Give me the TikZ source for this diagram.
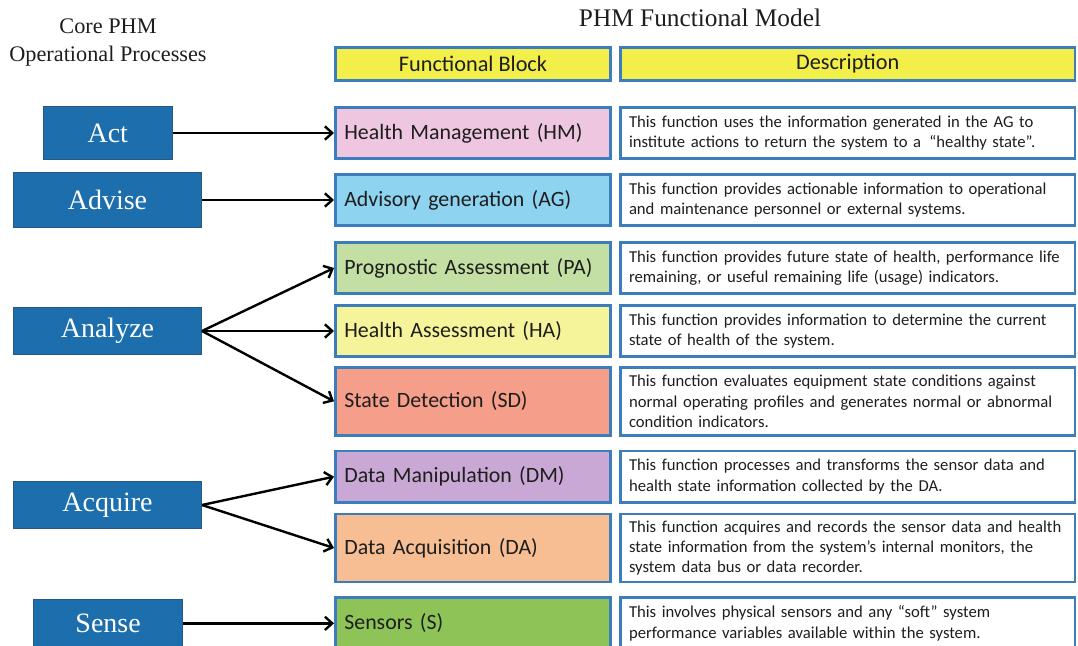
\documentclass[tikz,border=0pt]{standalone}
\usepackage{fontspec}
\setmainfont{Liberation Serif}
\newfontfamily\calibri{Carlito}
\usetikzlibrary{arrows.meta, positioning}
\definecolor{procblue}{RGB}{28,110,172}
\definecolor{procedge}{RGB}{40,88,135}
\definecolor{rimblue}{RGB}{60,125,190}
\definecolor{hdryellow}{RGB}{242,238,74}
\definecolor{hmpink}{RGB}{238,198,223}
\definecolor{agcyan}{RGB}{142,211,240}
\definecolor{pagreen}{RGB}{196,223,163}
\definecolor{hayellow}{RGB}{246,244,154}
\definecolor{sdsalmon}{RGB}{245,158,138}
\definecolor{dmlilac}{RGB}{201,168,213}
\definecolor{dapeach}{RGB}{247,189,147}
\definecolor{sgreen}{RGB}{141,195,87}
\definecolor{inkgray}{RGB}{30,30,30}
\tikzset{
  title/.style   = {align=center, inner sep=0pt, text=inkgray,
                    font=\fontsize{16.7}{21}\selectfont},
  process/.style = {rectangle, draw=procedge, line width=0.8pt, fill=procblue,
                    text=white, font=\fontsize{21}{24}\selectfont,
                    minimum width=141pt, minimum height=35.5pt, inner sep=0pt},
  header/.style  = {rectangle, draw=rimblue, line width=2pt, fill=hdryellow,
                    font=\calibri\fontsize{16.7}{20}\selectfont, text=inkgray,
                    minimum height=25pt, inner sep=0pt},
  fblock/.style  = {rectangle, draw=rimblue, line width=2pt, minimum width=206.5pt,
                    minimum height=38.5pt, text width=193pt, align=left,
                    font=\calibri\fontsize{16.4}{20}\selectfont, text=inkgray, inner sep=0pt},
  descr/.style   = {rectangle, draw=rimblue, line width=2pt, fill=white,
                    minimum width=341pt, minimum height=38.5pt, text width=328pt,
                    align=left, font=\calibri\fontsize{12.5}{15.3}\selectfont,
                    text=inkgray, inner sep=0pt},
  tall/.style    = {minimum height=51pt},
  flow/.style    = {-{Straight Barb[length=5.5pt, width=10pt]}, line width=1.8pt}
}
\begin{document}
\begin{tikzpicture}[x=0.75pt, y=-0.75pt]
  \useasboundingbox (0,0) rectangle (1078,646);

  % titles
  \node[title] (coretitle)  at (108,42) {Core PHM\\Operational Processes};
  \node[title, font=\fontsize{19}{22}\selectfont] (modeltitle) at (700,18) {PHM Functional Model};

  % table header
  \node[header, minimum width=206.5pt, anchor=north west] (hdrblock) at (334,46)
        {Functional Block};
  \node[header, minimum width=341pt] (hdrdesc) [right=5.25pt of hdrblock]
        {Description};

  % functional blocks
  \node[fblock, fill=hmpink]   (hm) [below=18pt of hdrblock]  {Health Management (HM)};
  \node[fblock, fill=agcyan]   (ag) [below=9.75pt of hm]      {Advisory generation (AG)};
  \node[fblock, fill=pagreen]  (pa) [below=10.5pt of ag]      {Prognostic Assessment (PA)};
  \node[fblock, fill=hayellow] (ha) [below=6.75pt of pa]      {Health Assessment (HA)};
  \node[fblock, tall, fill=sdsalmon] (sd) [below=6pt of ha]   {State Detection (SD)};
  \node[fblock, fill=dmlilac]  (dm) [below=9.75pt of sd]      {Data Manipulation (DM)};
  \node[fblock, tall, fill=dapeach] (da) [below=6.75pt of dm] {Data Acquisition (DA)};
  \node[fblock, fill=sgreen]   (s)  [below=9.75pt of da]      {Sensors (S)};

  % descriptions
  \node[descr] (hmdesc) [right=5.25pt of hm]
        {This function uses the information generated in the AG to\\
         institute actions to return the system to a \,“healthy state”.};
  \node[descr] (agdesc) [right=5.25pt of ag]
        {This function provides actionable information to operational\\
         and maintenance personnel or external systems.};
  \node[descr] (padesc) [right=5.25pt of pa]
        {This function provides future state of health, performance life\\
         remaining, or useful remaining life (usage) indicators.};
  \node[descr] (hadesc) [right=5.25pt of ha]
        {This function provides information to determine the current\\
         state of health of the system.};
  \node[descr, tall] (sddesc) [right=5.25pt of sd]
        {This function evaluates equipment state conditions against\\
         normal operating profiles and generates normal or abnormal\\
         condition indicators.};
  \node[descr] (dmdesc) [right=5.25pt of dm]
        {This function processes and transforms the sensor data and\\
         health state information collected by the DA.};
  \node[descr, tall] (dadesc) [right=5.25pt of da]
        {This function acquires and records the sensor data and health\\
         state information from the system’s internal monitors, the\\
         system data bus or data recorder.};
  \node[descr] (sdesc) [right=5.25pt of s]
        {This involves physical sensors and any “soft” system\\
         performance variables available within the system.};

  % operational processes
  \node[process, minimum width=97pt, minimum height=40pt] (act) [left=120.75pt of hm] {Act};
  \node[process, minimum height=41.5pt] (advise)  [left=99pt of ag] {Advise};
  \node[process] (analyze) [left=99pt of ha] {Analyze};
  \node[process] (acquire) at (107.5,505) {Acquire};
  \node[process, minimum width=112pt, minimum height=36pt] (sense) [left=113pt of s] {Sense};

  \draw[flow] (act) -- (hm);
  \draw[flow] (advise) -- (ag);
  \draw[flow] (analyze.east) -- (pa.west);
  \draw[flow] (analyze.east) -- (ha.west);
  \draw[flow] (analyze.east) -- (sd.west);
  \draw[flow] (acquire.east) -- (dm.west);
  \draw[flow] (acquire.east) -- (da.west);
  \draw[flow] (sense) -- (s);
\end{tikzpicture}
\end{document}
